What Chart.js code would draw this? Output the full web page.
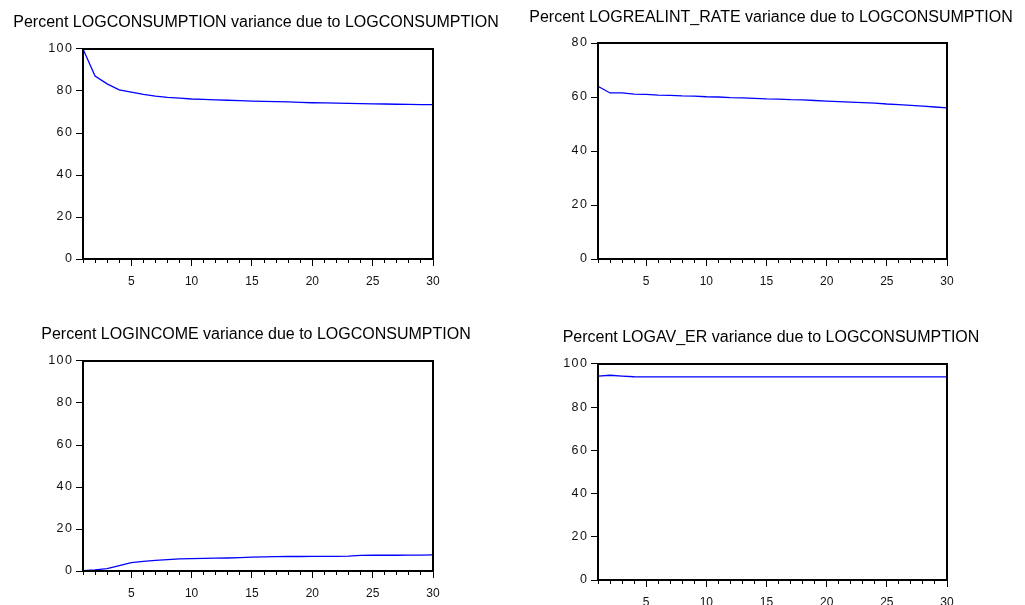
<!DOCTYPE html>
<html><head><meta charset="utf-8">
<script src="https://cdn.jsdelivr.net/npm/chart.js@4.4.0/dist/chart.umd.min.js"></script>
<style>
html,body{margin:0;padding:0;background:#fff;width:1025px;height:605px;overflow:hidden;position:relative}
canvas{position:absolute}
</style></head><body>
<canvas id="c1" width="512" height="300" style="left:0px;top:0px"></canvas>
<canvas id="c2" width="512" height="300" style="left:515px;top:0px"></canvas>
<canvas id="c3" width="512" height="305" style="left:0px;top:300px"></canvas>
<canvas id="c4" width="512" height="305" style="left:515px;top:300px"></canvas>
<script>
// ---- data ----
const periods = [1,2,3,4,5,6,7,8,9,10,11,12,13,14,15,16,17,18,19,20,21,22,23,24,25,26,27,28,29,30];
const xTickLabels = [5,10,15,20,25,30];
const consumptionShare = [100,87.1,83.4,80.5,79.5,78.4,77.6,77.0,76.6,76.2,76.0,75.8,75.6,75.4,75.2,75.1,74.9,74.8,74.6,74.4,74.3,74.2,74.1,74.0,73.9,73.8,73.7,73.6,73.5,73.5];
const realRateShare = [64.0,61.5,61.5,61.1,61.0,60.7,60.6,60.4,60.3,60.1,60.0,59.8,59.7,59.5,59.3,59.2,59.0,58.9,58.7,58.5,58.3,58.1,57.9,57.7,57.4,57.2,56.9,56.6,56.3,56.0];
const incomeShare = [0.2,0.5,1.1,2.6,4.0,4.6,5.1,5.4,5.8,5.9,6.0,6.1,6.2,6.4,6.6,6.7,6.8,6.9,6.9,7.0,7.0,7.0,7.1,7.4,7.5,7.5,7.5,7.6,7.6,7.7];
const exchangeRateShare = [94.4,94.8,94.4,94.1,94.0,94.0,94.0,94.0,94.0,94.0,94.0,94.0,94.0,94.0,94.0,94.0,94.0,94.0,94.0,94.0,94.0,94.0,94.0,94.0,94.0,94.0,94.0,94.0,94.0,94.0];
const titles = [
  "Percent LOGCONSUMPTION variance due to LOGCONSUMPTION",
  "Percent LOGREALINT_RATE variance due to LOGCONSUMPTION",
  "Percent LOGINCOME variance due to LOGCONSUMPTION",
  "Percent LOGAV_ER variance due to LOGCONSUMPTION"
];
const yMaxes = [100, 80, 100, 100];

// ---- rendering ----
const FONT = '"Liberation Sans", Arial, sans-serif';
const frame = {
  id: 'frame',
  afterDatasetsDraw(chart) {
    const a = chart.chartArea, c = chart.ctx;
    c.save(); c.strokeStyle = '#000'; c.lineWidth = 2;
    c.strokeRect(a.left, a.top, a.right - a.left, a.bottom - a.top);
    c.restore();
  }
};

function spacedLabels(s) {
  if (s._spaced) return;
  s._spaced = true;
  const orig = s.drawLabels;
  s.drawLabels = function (area) {
    const c = this.ctx;
    c.save();
    if ('letterSpacing' in c) c.letterSpacing = '1.5px';
    orig.call(this, area);
    c.restore();
  };
}

function makeChart(id, values, title, yMax, L) {
  return new Chart(document.getElementById(id), {
    type: 'line',
    data: { datasets: [{
      data: periods.map((p, i) => ({x: p, y: values[i]})),
      borderColor: '#0000FF', borderWidth: 1.3, pointRadius: 0, tension: 0, fill: false
    }]},
    options: {
      responsive: false, animation: false, devicePixelRatio: 1,
      layout: { padding: { top: L.T, left: 0, right: 0, bottom: 0 } },
      plugins: {
        legend: { display: false }, tooltip: { enabled: false },
        title: { display: true, text: title, color: '#000',
          font: { family: FONT, size: 16, weight: 'normal' },
          padding: { top: 0, bottom: L.pb } }
      },
      scales: {
        x: {
          type: 'linear', position: 'bottom', min: 1, max: 30,
          afterFit: s => { s.height = L.Hx; },
          afterBuildTicks: s => { s.ticks = periods.map(v => ({value: v})); },
          ticks: { autoSkip: false, maxRotation: 0, padding: 8, color: '#111',
            font: { family: FONT, size: 12 },
            callback: v => xTickLabels.includes(v) ? String(v) : '' },
          grid: { drawOnChartArea: false, drawTicks: true, tickLength: 7, tickColor: '#000', tickWidth: 1,
            tickBorderDash: ctx => (ctx.tick && xTickLabels.includes(ctx.tick.value)) ? [] : [3, 50] },
          border: { display: true, color: '#000', width: 2 }
        },
        y: {
          min: 0, max: yMax,
          afterFit: s => { s.width = 83; spacedLabels(s); },
          ticks: { stepSize: 20, padding: 2.5, color: '#111', font: { family: FONT, size: 12.5 } },
          grid: { drawOnChartArea: false, drawTicks: true, tickLength: 7, tickColor: '#000', tickWidth: 1 },
          border: { display: true, color: '#000', width: 2 }
        },
        yr: {
          position: 'right', display: true,
          afterFit: s => { s.width = L.Wr; },
          ticks: { display: false }, grid: { display: false }, border: { display: false }
        }
      }
    },
    plugins: [frame]
  });
}

makeChart('c1', consumptionShare, titles[0], yMaxes[0], { T: 13.4, pb: 16.4, Hx: 41, Wr: 79 });
makeChart('c2', realRateShare, titles[1], yMaxes[1], { T: 7.9, pb: 15.9, Hx: 41, Wr: 80 });
makeChart('c3', incomeShare, titles[2], yMaxes[2], { T: 25.4, pb: 16.4, Hx: 34, Wr: 79 });
makeChart('c4', exchangeRateShare, titles[3], yMaxes[3], { T: 28.4, pb: 16.4, Hx: 25, Wr: 80 });
</script>
</body></html>
